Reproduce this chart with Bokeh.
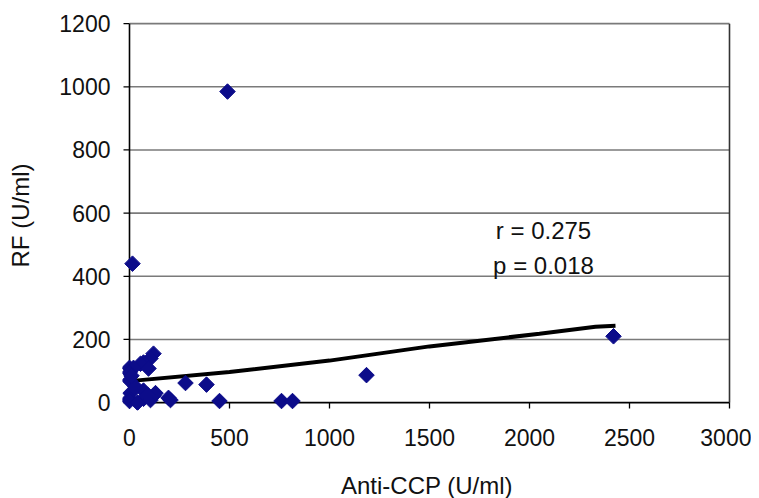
from math import pi
from bokeh.plotting import figure
from bokeh.models import Label, FixedTicker, Range1d
from bokeh.embed import file_html
from bokeh.resources import INLINE

# Data
anti_ccp = [490, 15, 2420, 1185, 120, 105, 70, 55, 0, 20, 95, 0, 0, 280, 385,
            5, 70, 120, 195, 0, 70, 105, 205, 450, 760, 815, 0, 30, 10, 130, 40, 90]
rf = [985, 440, 210, 87, 155, 140, 127, 123, 110, 110, 108, 95, 70, 62, 57,
      30, 38, 22, 15, 12, 12, 8, 8, 5, 5, 5, 5, 50, 85, 30, 0, 25]

trend_x = [0, 500, 1000, 1500, 2050, 2330, 2430]
trend_y = [68, 97, 133, 178, 218, 240, 243]

x_ticks = [0, 500, 1000, 1500, 2000, 2500, 3000]
y_ticks = [0, 200, 400, 600, 800, 1000, 1200]
stats = ["r = 0.275", "p = 0.018"]

FONT = "Liberation Sans"
X0, X1 = 0, 3000
Y0, Y1 = 0, 1200

p = figure(frame_width=609, frame_height=390, output_backend="svg", toolbar_location=None,
           x_range=Range1d(-35, 3010), y_range=Range1d(-25, 1210),
           min_border_left=122, min_border_right=20, min_border_top=20, min_border_bottom=80)
p.outline_line_color = None
p.xgrid.visible = False
p.ygrid.visible = False
p.background_fill_color = "white"

# horizontal gridlines from tick values
gy = [v for v in y_ticks if v > Y0]
p.segment(x0=[X0] * len(gy), y0=gy, x1=[X1] * len(gy), y1=gy,
          line_color="#7a7a7a", line_width=1.6)
# right border
p.segment(x0=[X1], y0=[Y0], x1=[X1], y1=[Y1], line_color="#333333", line_width=1.6)

# axis lines and tick marks
p.segment(x0=[X0, X0], y0=[Y0, Y0], x1=[X1, X0], y1=[Y0, Y1], line_color="black", line_width=1.6)
p.segment(x0=x_ticks, y0=[Y0] * len(x_ticks), x1=x_ticks, y1=[-19] * len(x_ticks),
          line_color="black", line_width=1.3)
p.segment(x0=[X0] * len(y_ticks), y0=y_ticks, x1=[-30] * len(y_ticks), y1=y_ticks,
          line_color="black", line_width=1.3)

# trend line
p.line(trend_x, trend_y, line_color="black", line_width=4)

# points
p.scatter(anti_ccp, rf, marker="square", angle=pi / 4, size=11,
          fill_color="#0c0c8a", line_color="#0c0c8a")

for ax, ticks in ((p.xaxis[0], x_ticks), (p.yaxis[0], y_ticks)):
    ax.ticker = FixedTicker(ticks=ticks)
    ax.axis_line_color = None
    ax.major_tick_line_color = None
    ax.major_tick_out = 0
    ax.major_tick_in = 0
    ax.minor_tick_line_color = None
    ax.major_label_text_font = FONT
    ax.major_label_text_font_size = "23px"
    ax.major_label_text_color = "#111111"
    ax.axis_label_text_font = FONT
    ax.axis_label_text_font_size = "24px"
    ax.axis_label_text_font_style = "normal"
    ax.axis_label_text_color = "#111111"

p.xaxis[0].major_label_standoff = 18
p.yaxis[0].major_label_standoff = 12
p.xaxis[0].axis_label = "Anti-CCP (U/ml)"
p.xaxis[0].axis_label_standoff = 23
p.yaxis[0].axis_label = "RF (U/ml)"
p.yaxis[0].axis_label_standoff = 22

p.add_layout(Label(x=2070, y=545, text=stats[0], text_align="center",
                   text_baseline="middle", text_font=FONT,
                   text_font_size="24px", text_color="#111111"))
p.add_layout(Label(x=2070, y=434, text=stats[1], text_align="center",
                   text_baseline="middle", text_font=FONT,
                   text_font_size="24px", text_color="#111111"))

open("out.html", "w").write(file_html(p, INLINE))
